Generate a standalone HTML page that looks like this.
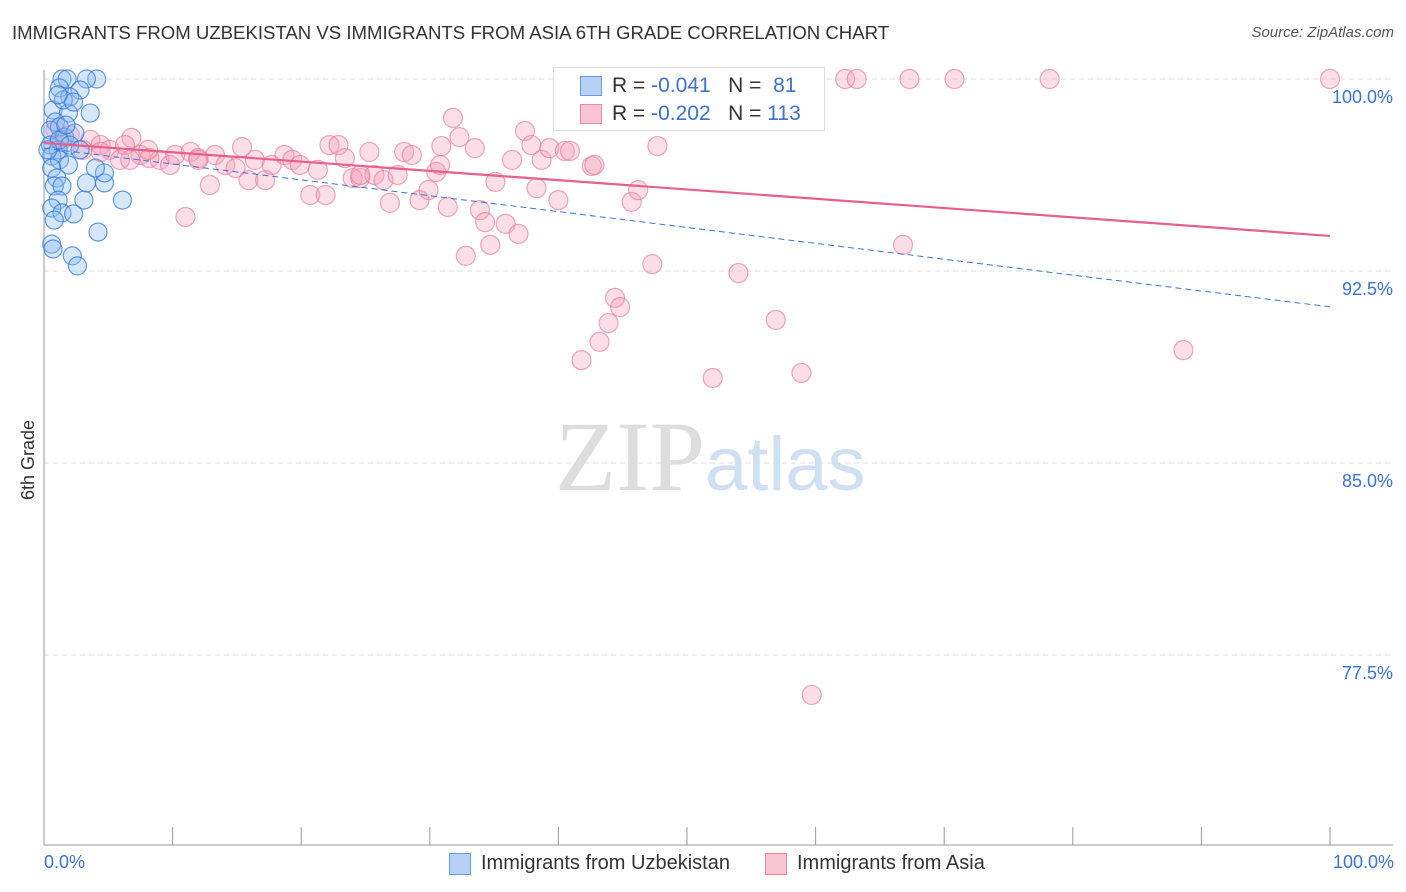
<!DOCTYPE html>
<html><head><meta charset="utf-8"><style>
body{margin:0;background:#fff;font-family:"Liberation Sans",sans-serif;}
#c{position:relative;width:1406px;height:892px;overflow:hidden}
.t{position:absolute;white-space:nowrap}
</style></head><body>
<div id="c">
<div class="t" style="left:12px;top:22px;font-size:18.6px;color:#333">IMMIGRANTS FROM UZBEKISTAN VS IMMIGRANTS FROM ASIA 6TH GRADE CORRELATION CHART</div>
<div class="t" style="right:12px;top:24px;font-size:15px;color:#555;font-style:italic">Source: ZipAtlas.com</div>
<svg id="s" width="1406" height="892" style="position:absolute;left:0;top:0"></svg>
</div>
<script>
const yTicks=[100,92.5,85,77.5];
const yTickLabels=["100.0%","92.5%","85.0%","77.5%"];
const blueX=[1.4,1.8,4.1,3.3,1.2,2.8,2.0,0.7,3.6,1.9,0.9,1.2,0.5,1.6,2.4,0.5,1.1,0.6,1.2,1.9,0.6,1.0,0.8,1.4,3.3,4.7,4.7,4.0,6.1,1.1,3.1,0.6,1.4,2.3,0.8,4.2,0.6,0.7,2.2,2.6,1.2,2.0,2.8,0.3,1.7,1.5,2.3,1.1];
const blueY=[100,100,100,100,99.65,99.57,99.3,98.79,98.67,98.67,98.32,98.12,98.0,97.73,97.89,97.42,97.23,96.99,96.84,96.64,96.52,96.13,95.82,95.82,95.94,95.94,96.33,96.52,95.27,95.27,95.27,94.96,94.77,94.73,94.49,94.02,93.55,93.36,93.09,92.7,97.62,97.42,97.23,97.23,98.2,99.18,99.1,99.38];
const pinkX=[0.9,2.0,3.6,4.4,5.1,5.9,6.8,6.3,7.5,8.2,9.0,9.8,10.2,11.4,12.0,12.9,13.3,14.1,14.9,15.4,15.9,16.4,17.2,17.7,18.7,19.3,19.9,20.7,21.3,21.9,22.2,22.9,23.4,24.0,24.6,25.3,25.7,26.4,26.9,27.5,28.0,28.6,29.2,29.9,30.5,30.9,31.4,31.8,32.3,32.8,33.5,33.9,34.3,34.7,35.1,35.9,36.4,36.9,37.4,37.9,38.3,38.7,39.3,40.0,40.5,40.9,42.6,42.8,41.8,43.2,43.9,44.4,44.8,45.7,46.2,47.3,47.7,50.2,53.0,52.0,54.0,56.9,58.9,59.7,62.3,63.2,66.8,67.3,70.8,78.2,88.6,100,11.0,6.7,3.0,1.4,4.4,8.1,12.0,24.6,30.8];
const pinkY=[98.0,97.81,97.62,97.42,97.23,96.84,97.7,97.42,97.03,96.91,96.84,96.64,97.03,97.15,96.91,95.86,97.03,96.64,96.52,97.34,96.05,96.84,96.05,96.64,97.03,96.84,96.64,95.47,96.45,95.47,97.42,97.42,96.91,96.13,96.13,97.15,96.25,96.05,95.16,96.25,97.15,97.03,95.27,95.66,96.37,97.38,95.0,98.48,97.73,93.09,97.3,94.88,94.41,93.52,95.98,94.34,96.84,93.95,97.97,97.42,95.74,96.84,97.3,95.27,97.19,97.19,96.6,96.64,89.02,89.73,90.47,91.45,91.09,95.2,95.66,92.77,97.38,98.48,100,88.32,92.42,90.59,88.52,75.94,100,100,93.52,100,100,100,89.41,100,94.61,96.84,97.23,97.62,97.15,97.23,96.84,96.25,96.64];
const blueTrend=[97.3,91.1];
const pinkTrend=[97.5,93.87];
const X0=44,X1=1330,YT=79,PPU=25.6;
const sx=v=>X0+(X1-X0)*v/100;
const sy=v=>YT+(100-v)*PPU;
const s=document.getElementById('s');
const NS='http://www.w3.org/2000/svg';
function mk(t,a){const e=document.createElementNS(NS,t);for(const k in a)e.setAttribute(k,a[k]);s.appendChild(e);return e;}
yTicks.forEach((v,i)=>{
 const g=mk('line',{x1:44,x2:1393,y1:sy(v),y2:sy(v),stroke:'#ddd','stroke-dasharray':'5,4'});
 
 
 const t=mk('text',{x:1393,y:sy(v)+24,'text-anchor':'end','font-size':18,fill:'#3b73d4','font-family':'Liberation Sans'});
 t.textContent=yTickLabels[i];
 
 
});
const ax=mk('line',{x1:44,x2:44,y1:70,y2:845,stroke:'#999'});


const bx=mk('line',{x1:44,x2:1393,y1:845,y2:845,stroke:'#999'});


for(let i=0;i<=10;i++){const l=mk('line',{x1:sx(i*10),x2:sx(i*10),y1:827,y2:845,stroke:'#999'});
 
 }
const wm=mk('text',{x:555,y:490,'text-anchor':'start','font-size':100,fill:'#ddd','font-family':'Liberation Serif'});
wm.innerHTML='ZIP<tspan fill="#cfe0f4" font-family="Liberation Sans" font-size="76">atlas</tspan>';


pinkX.forEach((x,i)=>{const c=mk('circle',{cx:sx(x),cy:sy(pinkY[i]),r:9.5,fill:'rgba(244,160,186,0.35)',stroke:'rgba(232,120,155,0.65)','stroke-width':1.2});
 
 });
blueX.forEach((x,i)=>{const c=mk('circle',{cx:sx(x),cy:sy(blueY[i]),r:9,fill:'rgba(140,185,240,0.35)',stroke:'rgba(50,120,220,0.75)','stroke-width':1.2});
 
 });
const bt=mk('line',{x1:sx(0),y1:sy(blueTrend[0]),x2:sx(100),y2:sy(blueTrend[1]),stroke:'#3b73d4','stroke-width':1,'stroke-dasharray':'6,4'});


const pt=mk('line',{x1:sx(0),y1:sy(pinkTrend[0]),x2:sx(100),y2:sy(pinkTrend[1]),stroke:'#e8608a','stroke-width':2.2});


</script>
<div class="t" style="left:553px;top:67px;width:270px;height:62px;border:1px solid #ddd;background:#fff;font-size:21px">
 <div class="t" style="left:26px;top:8px;width:20px;height:18px;background:#b7d0f5;border:1px solid #6a9ae0"></div>
 <div class="t" style="left:58px;top:6px;color:#333">R = <span style="color:#3b73d4">-0.041</span>&nbsp;&nbsp;&nbsp;N = &nbsp;<span style="color:#3b73d4">81</span></div>
 <div class="t" style="left:26px;top:36px;width:20px;height:18px;background:#f8c3d3;border:1px solid #e88aa8"></div>
 <div class="t" style="left:58px;top:34px;color:#333">R = <span style="color:#3b73d4">-0.202</span>&nbsp;&nbsp;&nbsp;N = <span style="color:#3b73d4">113</span></div>
</div>
<div class="t" style="left:44px;top:852px;font-size:18px;color:#3b73d4">0.0%</div>
<div class="t" style="right:12px;top:852px;font-size:18px;color:#3b73d4">100.0%</div>
<div class="t" style="left:6px;top:455px;font-size:18px;color:#333;transform:rotate(-90deg);transform-origin:left top"><span style="position:relative;left:-45px;top:12px">6th Grade</span></div>
<div class="t" style="left:449px;top:853px;width:20px;height:20px;background:#b7d0f5;border:1px solid #6a9ae0"></div>
<div class="t" style="left:481px;top:852px;font-size:20px;color:#333">Immigrants from Uzbekistan</div>
<div class="t" style="left:765px;top:853px;width:20px;height:20px;background:#f8c3d3;border:1px solid #e88aa8"></div>
<div class="t" style="left:797px;top:852px;font-size:20px;color:#333">Immigrants from Asia</div>
</body></html>
